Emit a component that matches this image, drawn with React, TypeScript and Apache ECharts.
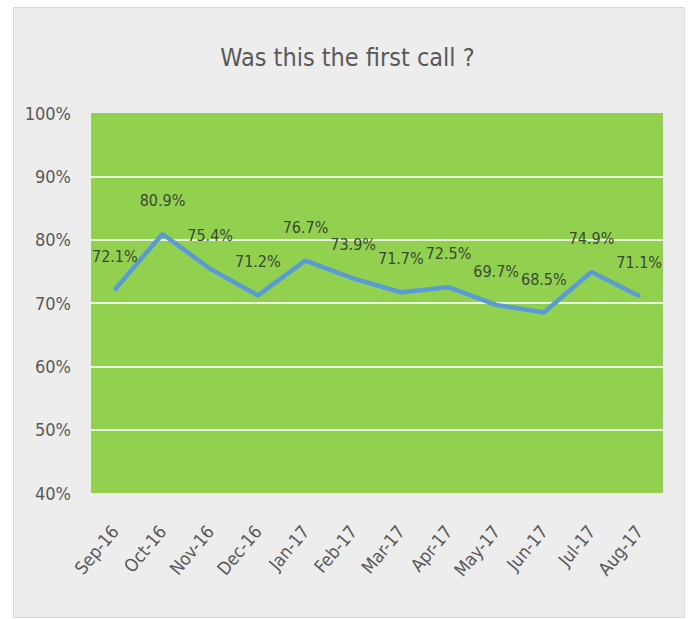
import React, { useEffect, useRef } from "react";
import * as echarts from "echarts";

const categories = ["Sep-16", "Oct-16", "Nov-16", "Dec-16", "Jan-17", "Feb-17", "Mar-17", "Apr-17", "May-17", "Jun-17", "Jul-17", "Aug-17"];
const firstCallPct = [72.1, 80.9, 75.4, 71.2, 76.7, 73.9, 71.7, 72.5, 69.7, 68.5, 74.9, 71.1];
const titleText = "Was this the first call ?";
const yMin = 40;
const yMax = 100;
const yStep = 10;

const FONT = '"Liberation Sans Narrow", "DejaVu Sans Condensed", "Open Sans", sans-serif';

export default function App() {
  const ref = useRef<HTMLDivElement>(null);
  useEffect(() => {
    if (!ref.current) return;
    const chart = echarts.init(ref.current, null, { renderer: "svg" });
    chart.setOption({
      animation: false,
      backgroundColor: "transparent",
      title: {
        text: titleText,
        left: "center",
        top: 40,
        textStyle: { fontFamily: FONT, fontSize: 25, fontWeight: "normal", color: "#595959" },
      },
      grid: {
        left: 91,
        right: 32,
        top: 113,
        bottom: 126,
        show: true,
        backgroundColor: "#92d050",
        borderWidth: 0,
      },
      xAxis: {
        type: "category",
        data: categories,
        boundaryGap: true,
        axisLine: { show: false },
        axisTick: { show: false },
        axisLabel: {
          rotate: 50,
          margin: 35,
          fontFamily: FONT,
          fontSize: 18,
          color: "#595959",
        },
      },
      yAxis: {
        type: "value",
        min: yMin,
        max: yMax,
        interval: yStep,
        axisLine: { show: false },
        axisTick: { show: false },
        axisLabel: {
          formatter: "{value}%",
          fontFamily: FONT,
          fontSize: 18,
          color: "#595959",
          margin: 20,
        },
        splitLine: {
          show: true,
          showMinLine: false,
          showMaxLine: false,
          lineStyle: { color: "rgba(255,255,255,0.8)", width: 2 },
        },
      },
      series: [
        {
          type: "line",
          data: firstCallPct,
          symbol: "circle",
          symbolSize: 3,
          showSymbol: true,
          lineStyle: { color: "#5b9bd5", width: 4.5 },
          itemStyle: { color: "#5b9bd5" },
          labelLayout: { hideOverlap: false },
          label: {
            show: true,
            position: "top",
            distance: 24,
            formatter: (p: any) => `${Number(p.value).toFixed(1)}%`,
            fontFamily: FONT,
            fontSize: 16,
            color: "#3a4a30",
          },
        },
      ],
    });
    return () => chart.dispose();
  }, []);

  return (
    <div style={{ position: "fixed", left: 0, top: 0, width: 695, height: 619, background: "#ffffff" }}>
      <div
        style={{
          position: "absolute",
          left: 13,
          top: 7,
          width: 672,
          height: 611,
          background: "#ededed",
          border: "1px solid #d9d9d9",
          boxSizing: "border-box",
        }}
      />
      <div ref={ref} style={{ position: "absolute", left: 0, top: 0, width: 695, height: 619 }} />
    </div>
  );
}
